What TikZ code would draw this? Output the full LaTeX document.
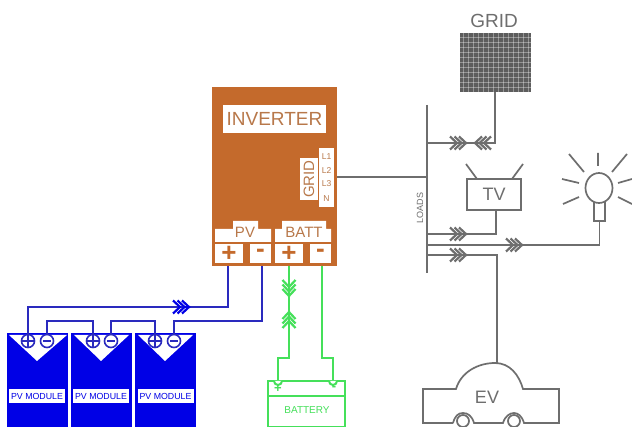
\documentclass[tikz,border=0pt]{standalone}
\usepackage{fontspec}
\usetikzlibrary{shapes.geometric}
\setmainfont{Liberation Sans}
\definecolor{invc}{HTML}{C46A2C}
\definecolor{invt}{HTML}{B8784A}
\definecolor{pvb}{HTML}{0000E6}
\definecolor{wireb}{HTML}{2A2ABE}
\definecolor{grn}{HTML}{45E05A}
\definecolor{gry}{HTML}{6E6E6E}
\tikzset{
  x=1pt,y=-1pt,
  lbl/.style={inner sep=0pt,font=\fontsize{#1}{#1}\selectfont},
  termlbl/.style={fill=white,text=invc,inner sep=0pt,minimum height=19pt,font=\bfseries\fontsize{26}{26}\selectfont},
  graywire/.style={draw=gry,line width=1.7pt},
  bluewire/.style={draw=wireb,line width=2pt},
  greenwire/.style={draw=grn,line width=2pt},
  pvmod/.style={fill=pvb,draw=none},
  tri/.style={fill=white,draw=none},
  termcirc/.style={circle,draw=wireb,line width=1.6pt,minimum size=13pt,inner sep=0pt},
  pics/chev/.style={code={
    \foreach \d in {-11,-6.5,-2}{
      \draw[line width=2.2pt,line join=miter] (\d-7,-6.5)--(\d,0)--(\d-7,6.5);
    }
    \fill (-8,-1.2)--(0,0)--(-8,1.2)--cycle;
  }}
}
\begin{document}
\begin{tikzpicture}
\useasboundingbox (0,0) rectangle (632,427);
\fill[white] (0,0) rectangle (632,427);

% inverter
\node[fill=invc,draw=none,inner sep=0pt,minimum width=125pt,minimum height=179pt] (inv) at (274.5,176.5) {};
\node[fill=white,text=invt,inner sep=0pt,minimum width=103pt,minimum height=28pt,lbl=19] (invlbl) at (274.5,119) {INVERTER};
\node[fill=white,text=invt,inner sep=0pt,minimum width=42pt,minimum height=18pt,rotate=90,lbl=15] (gridlbl) at (309,179) {GRID};
\node[fill=white,inner sep=0pt,minimum width=15pt,minimum height=59pt] (lbox) at (326.5,177.5) {};
\foreach \t/\yy in {L1/157,L2/171,L3/184,N/199}{
  \node[text=invt,lbl=8.5] (t\t) at (326.5,\yy) {\t};
}
\fill[white] (215,242) -- (215,229) -- (233,229) -- (233,221) -- (258,221) -- (258,229) -- (271,229) -- (271,242) -- cycle;
\fill[white] (275,242) -- (275,229) -- (282,229) -- (282,221) -- (326,221) -- (326,229) -- (331,229) -- (331,242) -- cycle;
\node[text=invt,lbl=15] (pvlbl) at (245,232) {PV};
\node[text=invt,lbl=15] (battlbl) at (304,232) {BATT};
\node[termlbl,minimum width=28pt] (tpvp) at (229,253.5) {+};
\node[termlbl,minimum width=21pt] (tpvm) at (260.5,253.5) {-};
\node[termlbl,minimum width=28pt] (tbp) at (289,253.5) {+};
\node[termlbl,minimum width=21pt] (tbm) at (320.5,253.5) {-};

% PV modules
\foreach \n/\xa/\xb/\ta/\tb/\ax/\lc in {1/7/68/9/67/37/37,2/71/132/74/129/101/101,3/135/196/138/193/165/165.5}{
  \fill[pvmod] (\xa,333) rectangle (\xb,427);
  \fill[tri] (\ta,335) -- (\tb,335) -- (\ax,361) -- cycle;
  \node[fill=white,text=pvb,inner sep=0pt,minimum width=56pt,minimum height=14pt,lbl=8.8] (pvm\n) at (\lc,396) {PV MODULE};
}
\foreach \n/\px/\mx in {1/28/47,2/93/111,3/155/174}{
  \node[termcirc] (p\n) at (\px,341) {};
  \node[termcirc] (m\n) at (\mx,341) {};
  \draw[wireb,line width=1.5pt] (\px-6,341)--(\px+6,341) (\px,335)--(\px,347) (\mx-4,341)--(\mx+4,341);
}
\coordinate (tl) at (28,307);
\coordinate (pvr) at (228,307);
\coordinate (br) at (262,321);
\draw[bluewire] (p1.north) -- (tl) -- (pvr) -- (228,266);
\draw[bluewire] (m1.north) |- (93,321) -- (p2.north);
\draw[bluewire] (m2.north) |- (155,321) -- (p3.north);
\draw[bluewire] (m3.north) |- (br) -- (262,266);
\pic[color=pvb] at (191,307) {chev};

% battery
\node[draw=grn,line width=2pt,inner sep=0pt,minimum width=77pt,minimum height=46pt] (bat) at (306.5,404) {};
\draw[greenwire] (268,396) -- (345,396);
\coordinate (bl) at (278,358);
\coordinate (brr) at (333,358);
\draw[greenwire] (289,266) -- (289,358) -- (bl) -- (278,380);
\draw[greenwire] (322,266) -- (322,358) -- (brr) -- (333,380);
\draw[greenwire,fill=white] (274,381) arc[start angle=180,end angle=0,radius=4];
\draw[greenwire,fill=white] (329,381) arc[start angle=180,end angle=0,radius=4];
\node[text=grn,inner sep=0pt,font=\bfseries\fontsize{13}{13}\selectfont] (bp) at (278,389) {+};
\node[text=grn,inner sep=0pt,font=\bfseries\fontsize{13}{13}\selectfont] (bm) at (334,388) {-};
\node[text=grn,lbl=10] (battxt) at (307,410) {BATTERY};
\pic[color=grn,rotate=-90] at (289,298) {chev};
\pic[color=grn,rotate=90] at (289,310) {chev};

% bus
\coordinate (bustop) at (427,105);
\coordinate (busbot) at (427,273);
\draw[graywire] (bustop) -- (busbot);
\draw[graywire] (337,177) -- (427,177);
\node[rotate=90,text=gry,lbl=9] (loads) at (420,208) {LOADS};

% grid
\node[fill=gry!85!black,draw=none,inner sep=0pt,minimum width=71pt,minimum height=59pt] (grid) at (495.5,62.5) {};
\foreach \i in {0,...,13}{\draw[white,opacity=.35,line width=.6pt] (463+\i*5,33)--(463+\i*5,92);}
\foreach \i in {0,...,10}{\draw[white,opacity=.35,line width=.6pt] (460,37+\i*5)--(531,37+\i*5);}
\node[text=gry,lbl=19] (gridt) at (494,21) {GRID};
\coordinate (gridb) at (495,92);
\draw[graywire] (gridb) |- (427,143);
\pic[color=gry] at (468,143) {chev};
\pic[color=gry,rotate=180] at (473,143) {chev};

% TV
\node[draw=gry,line width=1.7pt,inner sep=0pt,minimum width=54pt,minimum height=31pt,text=gry,lbl=18] (tv) at (494,194.5) {TV};
\draw[graywire] (477,179) -- (466,164) (512,179) -- (523,164);
\draw[graywire] (496,210) |- (427,234);
\pic[color=gry] at (468,234) {chev};

% lamp
\node[draw=gry,line width=1.7pt,inner sep=0pt,minimum width=11pt,minimum height=19pt] (lampbase) at (599.5,211.5) {};
\node[draw=gry,line width=1.7pt,fill=white,ellipse,inner sep=0pt,minimum width=27pt,minimum height=30pt] (bulb) at (599,188) {};
\draw[graywire] (lampbase.south) |- (427,245);
\pic[color=gry] at (524,245) {chev};
\draw[graywire] (598,153)--(598,166) (569,154)--(584,172) (562,179)--(579,183) (563,204)--(579,197)
  (627,154)--(612,172) (618,183)--(632,179) (618,197)--(632,204);

% EV
\coordinate (evtop) at (497,363);
\draw[graywire] (evtop) |- (427,255);
\pic[color=gry] at (468,255) {chev};
\draw[graywire] (453,423) -- (423,423) -- (423,389) -- (456,389) .. controls (461,372) and (478,363) .. (495,363) .. controls (510,363) and (519,375) .. (523,389) -- (559,389) -- (559,423) -- (524,423) .. controls (522,416) and (518,413) .. (514,413) .. controls (510,413) and (505,416) .. (503,423) -- (474,423) .. controls (472,416) and (468,413) .. (463,413) .. controls (458,413) and (455,416) .. (453,423);
\node[draw=gry,line width=1.7pt,circle,inner sep=0pt,minimum size=12pt] (wh1) at (463,421) {};
\node[draw=gry,line width=1.7pt,circle,inner sep=0pt,minimum size=12pt] (wh2) at (514,421) {};
\node[text=gry,lbl=18] (ev) at (487,397) {EV};
\end{tikzpicture}
\end{document}
